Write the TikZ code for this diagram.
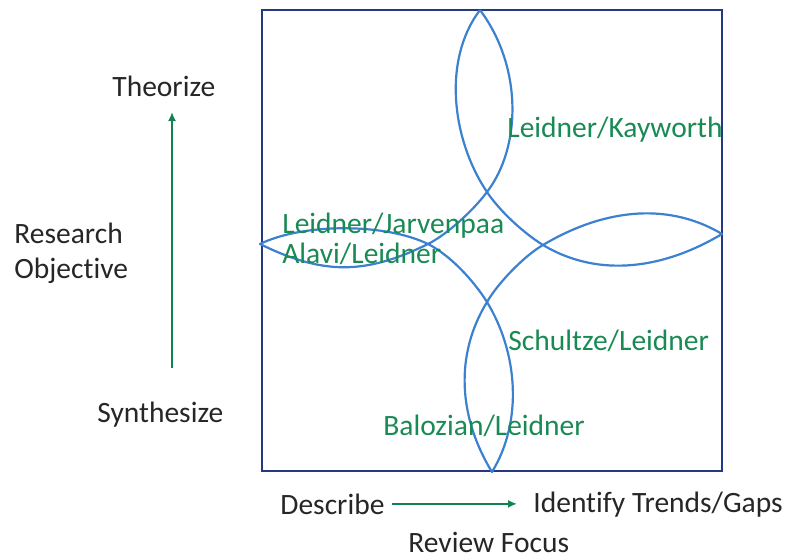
\documentclass[tikz,border=0pt]{standalone}
\usepackage{fontspec}
\setmainfont{Carlito}[Ligatures=NoCommon]
\usepackage{tikz}
\usetikzlibrary{arrows.meta, calc}
\definecolor{framenavy}{RGB}{36,58,128}
\definecolor{petalblue}{RGB}{60,128,208}
\definecolor{authorgreen}{RGB}{26,138,84}
\definecolor{flowgreen}{RGB}{16,132,80}
\tikzset{
  frame/.style={draw=framenavy, line width=1.2pt},
  petal/.style={draw=petalblue, line width=1.1pt, line join=round},
  axislabel/.style={
    inner sep=0pt, anchor=base west, text=black!85,
    font=\fontsize{14.75}{17.5}\selectfont
  },
  author/.style={
    inner sep=0pt, anchor=base west, text=authorgreen,
    font=\fontsize{14.75}{17.5}\selectfont
  },
  flow/.style={-{Latex[length=4.5pt,width=4pt]}, line width=0.9pt, draw=flowgreen}
}

\begin{document}
\begin{tikzpicture}[x=0.5pt, y=-0.5pt]
  \useasboundingbox (0,0) rectangle (788,559);
  \draw[frame] (262,10) rectangle (722,471);

  % petal tips and the crossings between them
  \coordinate (tip-n) at (480,10);
  \coordinate (tip-w) at (260,244);
  \coordinate (tip-s) at (492,472);
  \coordinate (tip-e) at (722,234);
  \coordinate (x-n) at (487,192);
  \coordinate (x-w) at (428,244);
  \coordinate (x-s) at (487,302);
  \coordinate (x-e) at (543,245);

  \draw[petal] (tip-n) .. controls (522,66) and (522,146) .. (x-n)
    .. controls (472,212) and (446,235) .. (x-w)
    .. controls (365,275) and (323,275) .. (tip-w)
    .. controls (303,223) and (385,223) .. (x-w)
    .. controls (450,255) and (474,281) .. (x-s)
    .. controls (518,353) and (523,421) .. (tip-s)
    .. controls (459,418) and (454,356) .. (x-s)
    .. controls (498,283) and (524,256) .. (x-e)
    .. controls (600,211) and (665,200) .. (tip-e)
    .. controls (665,268) and (600,279) .. (x-e)
    .. controls (522,232) and (499,210) .. (x-n)
    .. controls (452,140) and (442,60) .. (tip-n);

  \node[author] (kayworth) at (507,137) {Leidner/Kayworth};
  \node[author] (jarvenpaa) at (282,233) {Leidner/Jarvenpaa};
  \node[author] (alavi) at (282,263) {Alavi/Leidner};
  \node[author] (schultze) at (508,350) {Schultze/Leidner};
  \node[author] (balozian) at (383,435) {Balozian/Leidner};

  \node[axislabel] (theo) at (112,96) {Theorize};
  \node[axislabel, align=left] (objective) at (14,278) {Research\\Objective};
  \node[axislabel] (synth) at (97,422) {Synthesize};
  \node[axislabel] (describe) at (280,514) {Describe};
  \node[axislabel] (trends) at (533,512) {Identify Trends/Gaps};
  \node[axislabel] (focus) at (408,552) {Review Focus};

  \coordinate (obj-lo) at (172,368);
  \coordinate (obj-hi) at (172,112);
  \draw[flow] (obj-lo) -- (obj-hi);
  \draw[flow, shorten <=3.5pt, shorten >=8pt] (describe.east) -- (describe.east -| trends.west);
\end{tikzpicture}
\end{document}
